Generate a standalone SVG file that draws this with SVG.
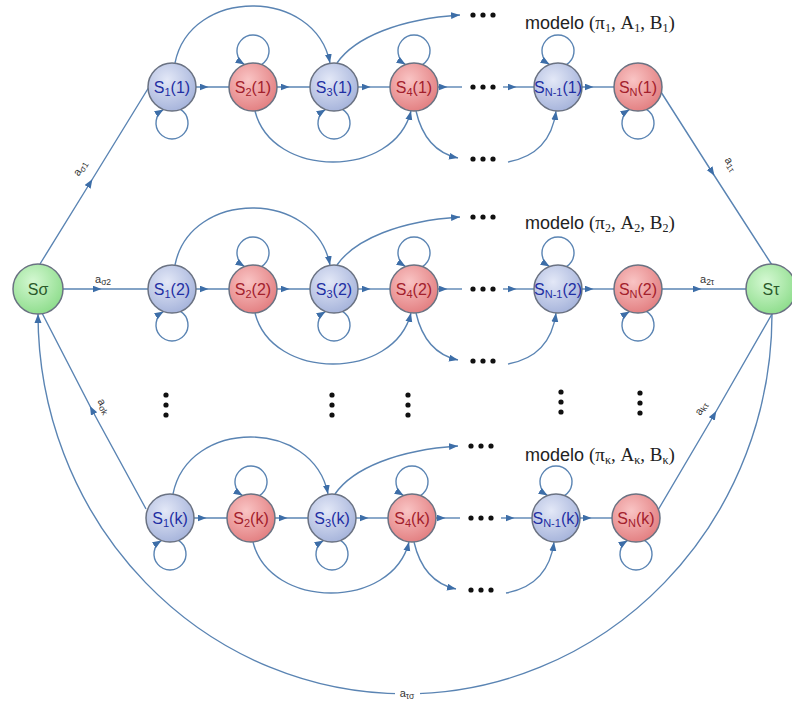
<svg xmlns="http://www.w3.org/2000/svg" width="792" height="704" viewBox="0 0 792 704">
<style>
.c{fill:none;stroke:#5a84b3;stroke-width:1.4}
.m{marker-mid:url(#am)}
.e{marker-end:url(#ae)}
.nd circle{stroke:#6a7282;stroke-width:1.5}
.nd text{font-family:"Liberation Sans",Arial,sans-serif;font-size:16px;text-anchor:middle}
.blue circle{fill:url(#gb)}
.blue text{fill:#1f2fa3}
.red circle{fill:url(#gr)}
.red text{fill:#a3202c}
.green circle{fill:url(#gg)}
.green text{fill:#2b5a2b}
.sub{font-size:11px}
.dot{fill:#111}
.lbl{font-family:"Liberation Sans",Arial,sans-serif;font-size:11px;fill:#333}
.lbl .s{font-size:8.5px}
.mt{font-family:"Liberation Sans",Arial,sans-serif;font-size:18px;fill:#222}
.mt .sr{font-family:"Liberation Serif","Times New Roman",serif;font-size:19px}
.mt .ss{font-family:"Liberation Serif","Times New Roman",serif;font-size:12px}
</style>
<defs>
<radialGradient id="gb" cx="0.4" cy="0.35" r="0.7"><stop offset="0" stop-color="#e3e8f7"/><stop offset="1" stop-color="#a4b2da"/></radialGradient>
<radialGradient id="gr" cx="0.4" cy="0.35" r="0.7"><stop offset="0" stop-color="#f9c4c4"/><stop offset="1" stop-color="#e27d7f"/></radialGradient>
<radialGradient id="gg" cx="0.4" cy="0.35" r="0.7"><stop offset="0" stop-color="#d4f8d2"/><stop offset="1" stop-color="#8cdc8a"/></radialGradient>
<marker id="am" markerUnits="userSpaceOnUse" markerWidth="10" markerHeight="8" refX="4.5" refY="3.5" orient="auto"><path d="M0,0L9,3.5L0,7z" fill="#3d6ea8"/></marker>
<marker id="ae" markerUnits="userSpaceOnUse" markerWidth="10" markerHeight="8" refX="9" refY="3.5" orient="auto"><path d="M0,0L9,3.5L0,7z" fill="#3d6ea8"/></marker>
</defs>
<rect width="792" height="704" fill="#fff"/>

<g id="connectors">
  <g id="conn-row1" transform="translate(0,87)">
    <path class="c m" d="M196 0L204 0L229 0"/>
    <path class="c m" d="M277 0L285 0L310 0"/>
    <path class="c m" d="M358 0L366 0L390 0"/>
    <path class="c m" d="M438 0L443 0L462 0"/>
    <path class="c m" d="M503 0L512 0L534 0"/>
    <path class="c m" d="M582 0L589 0L614 0"/>
    <path class="c e" d="M175 -24C190 -100 315 -100 330 -24"/>
    <path class="c e" d="M337 -24C355 -50 400 -68 460 -72"/>
    <path class="c e" d="M255 24C272 92 394 92 411 24"/>
    <path class="c e" d="M416 24C422 50 435 66 458 71"/>
    <path class="c e" d="M508 75C535 70 552 55 556 24"/>
    <path class="c e" d="M261.5 -22.4A16 16 0 1 0 244.5 -22.4"/>
    <path class="c e" d="M422.5 -22.4A16 16 0 1 0 405.5 -22.4"/>
    <path class="c e" d="M566.5 -22.4A16 16 0 1 0 549.5 -22.4"/>
    <path class="c e" d="M180.5 22.4A16 16 0 1 1 163.5 22.4"/>
    <path class="c e" d="M342.5 22.4A16 16 0 1 1 325.5 22.4"/>
    <path class="c e" d="M646.5 22.4A16 16 0 1 1 629.5 22.4"/>
  </g>
  <g id="conn-row2" transform="translate(0,289)">
    <path class="c m" d="M196 0L204 0L229 0"/>
    <path class="c m" d="M277 0L285 0L310 0"/>
    <path class="c m" d="M358 0L366 0L390 0"/>
    <path class="c m" d="M438 0L443 0L462 0"/>
    <path class="c m" d="M503 0L512 0L534 0"/>
    <path class="c m" d="M582 0L589 0L614 0"/>
    <path class="c e" d="M175 -24C190 -100 315 -100 330 -24"/>
    <path class="c e" d="M337 -24C355 -50 400 -68 460 -72"/>
    <path class="c e" d="M255 24C272 92 394 92 411 24"/>
    <path class="c e" d="M416 24C422 50 435 66 458 71"/>
    <path class="c e" d="M508 75C535 70 552 55 556 24"/>
    <path class="c e" d="M261.5 -22.4A16 16 0 1 0 244.5 -22.4"/>
    <path class="c e" d="M422.5 -22.4A16 16 0 1 0 405.5 -22.4"/>
    <path class="c e" d="M566.5 -22.4A16 16 0 1 0 549.5 -22.4"/>
    <path class="c e" d="M180.5 22.4A16 16 0 1 1 163.5 22.4"/>
    <path class="c e" d="M342.5 22.4A16 16 0 1 1 325.5 22.4"/>
    <path class="c e" d="M646.5 22.4A16 16 0 1 1 629.5 22.4"/>
  </g>
  <g id="conn-rowk" transform="translate(-2,518)">
    <path class="c m" d="M196 0L204 0L229 0"/>
    <path class="c m" d="M277 0L285 0L310 0"/>
    <path class="c m" d="M358 0L366 0L390 0"/>
    <path class="c m" d="M438 0L443 0L462 0"/>
    <path class="c m" d="M503 0L512 0L534 0"/>
    <path class="c m" d="M582 0L589 0L614 0"/>
    <path class="c e" d="M175 -24C190 -100 315 -100 330 -24"/>
    <path class="c e" d="M337 -24C355 -50 400 -68 460 -72"/>
    <path class="c e" d="M255 24C272 92 394 92 411 24"/>
    <path class="c e" d="M416 24C422 50 435 66 458 71"/>
    <path class="c e" d="M508 75C535 70 552 55 556 24"/>
    <path class="c e" d="M261.5 -22.4A16 16 0 1 0 244.5 -22.4"/>
    <path class="c e" d="M422.5 -22.4A16 16 0 1 0 405.5 -22.4"/>
    <path class="c e" d="M566.5 -22.4A16 16 0 1 0 549.5 -22.4"/>
    <path class="c e" d="M180.5 22.4A16 16 0 1 1 163.5 22.4"/>
    <path class="c e" d="M342.5 22.4A16 16 0 1 1 325.5 22.4"/>
    <path class="c e" d="M646.5 22.4A16 16 0 1 1 629.5 22.4"/>
  </g>
  <g id="conn-global">
    <path class="c m" d="M40 264L90 183L149 87"/>
    <path class="c m" d="M63 289L97 289L148 289"/>
    <path class="c m" d="M146 509L92 410L42 313"/>
    <path class="c m" d="M661 92L712 172L772 265"/>
    <path class="c m" d="M662 289L697 289L746 289"/>
    <path class="c m" d="M658 510L714 415L772 314"/>
    <path class="c e" d="M772 314A367 380 0 0 1 38 314"/>
  </g>
  <g id="edge-labels">
    <text class="lbl" transform="translate(83,170) rotate(-58)" text-anchor="middle">a<tspan class="s" dy="2">σ1</tspan></text>
    <text class="lbl" x="95" y="283">a<tspan class="s" dy="2">σ2</tspan></text>
    <text class="lbl" transform="translate(101,408) rotate(62)" text-anchor="middle">a<tspan class="s" dy="2">σk</tspan></text>
    <text class="lbl" transform="translate(728,166) rotate(57)" text-anchor="middle">a<tspan class="s" dy="2">1τ</tspan></text>
    <text class="lbl" x="700" y="283">a<tspan class="s" dy="2">2τ</tspan></text>
    <text class="lbl" transform="translate(704,410) rotate(-60)" text-anchor="middle">a<tspan class="s" dy="2">kτ</tspan></text>
    <rect x="395" y="685" width="25" height="15" fill="#fff"/>
    <text class="lbl" x="407" y="697" text-anchor="middle">a<tspan class="s" dy="2">τσ</tspan></text>
  </g>
</g>

<g id="n-ssigma" class="nd green"><circle cx="38" cy="289" r="25"/><text x="38" y="295">Sσ</text></g>
<g id="n-stau" class="nd green"><circle cx="771" cy="289" r="25"/><text x="771" y="295">Sτ</text></g>

<g id="row1" transform="translate(0,87)">
  <g id="n-s1-1" class="nd blue"><circle cx="172" cy="0" r="24"/><text x="172" y="5.5">S<tspan class="sub" dy="3">1</tspan><tspan dy="-3">(1)</tspan></text></g>
  <g id="n-s2-1" class="nd red"><circle cx="253" cy="0" r="24"/><text x="253" y="5.5">S<tspan class="sub" dy="3">2</tspan><tspan dy="-3">(1)</tspan></text></g>
  <g id="n-s3-1" class="nd blue"><circle cx="334" cy="0" r="24"/><text x="334" y="5.5">S<tspan class="sub" dy="3">3</tspan><tspan dy="-3">(1)</tspan></text></g>
  <g id="n-s4-1" class="nd red"><circle cx="414" cy="0" r="24"/><text x="414" y="5.5">S<tspan class="sub" dy="3">4</tspan><tspan dy="-3">(1)</tspan></text></g>
  <g id="n-sn1-1" class="nd blue"><circle cx="558" cy="0" r="24"/><text x="558" y="5.5" font-size="15">S<tspan class="sub" dy="3">N-1</tspan><tspan dy="-3">(1)</tspan></text></g>
  <g id="n-sn-1" class="nd red"><circle cx="638" cy="0" r="24"/><text x="638" y="5.5">S<tspan class="sub" dy="3">N</tspan><tspan dy="-3">(1)</tspan></text></g>
  <g id="dots-top-1"><circle class="dot" cx="473" cy="-72" r="2.6"/><circle class="dot" cx="483" cy="-72" r="2.6"/><circle class="dot" cx="493" cy="-72" r="2.6"/></g>
  <g id="dots-mid-1"><circle class="dot" cx="473" cy="0" r="2.6"/><circle class="dot" cx="483" cy="0" r="2.6"/><circle class="dot" cx="493" cy="0" r="2.6"/></g>
  <g id="dots-bot-1"><circle class="dot" cx="473" cy="72" r="2.6"/><circle class="dot" cx="483" cy="72" r="2.6"/><circle class="dot" cx="493" cy="72" r="2.6"/></g>
  <text class="mt" x="525" y="-58">modelo <tspan class="sr">(π</tspan><tspan class="ss" dy="3">1</tspan><tspan class="sr" dy="-3">, A</tspan><tspan class="ss" dy="3">1</tspan><tspan class="sr" dy="-3">, B</tspan><tspan class="ss" dy="3">1</tspan><tspan class="sr" dy="-3">)</tspan></text>
</g>

<g id="row2" transform="translate(0,289)">
  <g id="n-s1-2" class="nd blue"><circle cx="172" cy="0" r="24"/><text x="172" y="5.5">S<tspan class="sub" dy="3">1</tspan><tspan dy="-3">(2)</tspan></text></g>
  <g id="n-s2-2" class="nd red"><circle cx="253" cy="0" r="24"/><text x="253" y="5.5">S<tspan class="sub" dy="3">2</tspan><tspan dy="-3">(2)</tspan></text></g>
  <g id="n-s3-2" class="nd blue"><circle cx="334" cy="0" r="24"/><text x="334" y="5.5">S<tspan class="sub" dy="3">3</tspan><tspan dy="-3">(2)</tspan></text></g>
  <g id="n-s4-2" class="nd red"><circle cx="414" cy="0" r="24"/><text x="414" y="5.5">S<tspan class="sub" dy="3">4</tspan><tspan dy="-3">(2)</tspan></text></g>
  <g id="n-sn1-2" class="nd blue"><circle cx="558" cy="0" r="24"/><text x="558" y="5.5" font-size="15">S<tspan class="sub" dy="3">N-1</tspan><tspan dy="-3">(2)</tspan></text></g>
  <g id="n-sn-2" class="nd red"><circle cx="638" cy="0" r="24"/><text x="638" y="5.5">S<tspan class="sub" dy="3">N</tspan><tspan dy="-3">(2)</tspan></text></g>
  <g id="dots-top-2"><circle class="dot" cx="473" cy="-72" r="2.6"/><circle class="dot" cx="483" cy="-72" r="2.6"/><circle class="dot" cx="493" cy="-72" r="2.6"/></g>
  <g id="dots-mid-2"><circle class="dot" cx="473" cy="0" r="2.6"/><circle class="dot" cx="483" cy="0" r="2.6"/><circle class="dot" cx="493" cy="0" r="2.6"/></g>
  <g id="dots-bot-2"><circle class="dot" cx="473" cy="72" r="2.6"/><circle class="dot" cx="483" cy="72" r="2.6"/><circle class="dot" cx="493" cy="72" r="2.6"/></g>
  <text class="mt" x="525" y="-60">modelo <tspan class="sr">(π</tspan><tspan class="ss" dy="3">2</tspan><tspan class="sr" dy="-3">, A</tspan><tspan class="ss" dy="3">2</tspan><tspan class="sr" dy="-3">, B</tspan><tspan class="ss" dy="3">2</tspan><tspan class="sr" dy="-3">)</tspan></text>
</g>

<g id="vdots">
  <g><circle class="dot" cx="166" cy="395" r="2.6"/><circle class="dot" cx="166" cy="405" r="2.6"/><circle class="dot" cx="166" cy="415" r="2.6"/></g>
  <g><circle class="dot" cx="332" cy="395" r="2.6"/><circle class="dot" cx="332" cy="405" r="2.6"/><circle class="dot" cx="332" cy="415" r="2.6"/></g>
  <g><circle class="dot" cx="408" cy="395" r="2.6"/><circle class="dot" cx="408" cy="405" r="2.6"/><circle class="dot" cx="408" cy="415" r="2.6"/></g>
  <g><circle class="dot" cx="561" cy="392" r="2.6"/><circle class="dot" cx="561" cy="402" r="2.6"/><circle class="dot" cx="561" cy="412" r="2.6"/></g>
  <g><circle class="dot" cx="640" cy="393" r="2.6"/><circle class="dot" cx="640" cy="403" r="2.6"/><circle class="dot" cx="640" cy="413" r="2.6"/></g>
</g>

<g id="rowk" transform="translate(-2,518)">
  <g id="n-s1-k" class="nd blue"><circle cx="172" cy="0" r="24"/><text x="172" y="5.5">S<tspan class="sub" dy="3">1</tspan><tspan dy="-3">(k)</tspan></text></g>
  <g id="n-s2-k" class="nd red"><circle cx="253" cy="0" r="24"/><text x="253" y="5.5">S<tspan class="sub" dy="3">2</tspan><tspan dy="-3">(k)</tspan></text></g>
  <g id="n-s3-k" class="nd blue"><circle cx="334" cy="0" r="24"/><text x="334" y="5.5">S<tspan class="sub" dy="3">3</tspan><tspan dy="-3">(k)</tspan></text></g>
  <g id="n-s4-k" class="nd red"><circle cx="414" cy="0" r="24"/><text x="414" y="5.5">S<tspan class="sub" dy="3">4</tspan><tspan dy="-3">(k)</tspan></text></g>
  <g id="n-sn1-k" class="nd blue"><circle cx="558" cy="0" r="24"/><text x="558" y="5.5" font-size="15">S<tspan class="sub" dy="3">N-1</tspan><tspan dy="-3">(k)</tspan></text></g>
  <g id="n-sn-k" class="nd red"><circle cx="638" cy="0" r="24"/><text x="638" y="5.5">S<tspan class="sub" dy="3">N</tspan><tspan dy="-3">(k)</tspan></text></g>
  <g id="dots-top-k"><circle class="dot" cx="473" cy="-72" r="2.6"/><circle class="dot" cx="483" cy="-72" r="2.6"/><circle class="dot" cx="493" cy="-72" r="2.6"/></g>
  <g id="dots-mid-k"><circle class="dot" cx="473" cy="0" r="2.6"/><circle class="dot" cx="483" cy="0" r="2.6"/><circle class="dot" cx="493" cy="0" r="2.6"/></g>
  <g id="dots-bot-k"><circle class="dot" cx="473" cy="72" r="2.6"/><circle class="dot" cx="483" cy="72" r="2.6"/><circle class="dot" cx="493" cy="72" r="2.6"/></g>
  <text class="mt" x="527" y="-57">modelo <tspan class="sr">(π</tspan><tspan class="ss" dy="3">κ</tspan><tspan class="sr" dy="-3">, A</tspan><tspan class="ss" dy="3">κ</tspan><tspan class="sr" dy="-3">, B</tspan><tspan class="ss" dy="3">κ</tspan><tspan class="sr" dy="-3">)</tspan></text>
</g>
</svg>
